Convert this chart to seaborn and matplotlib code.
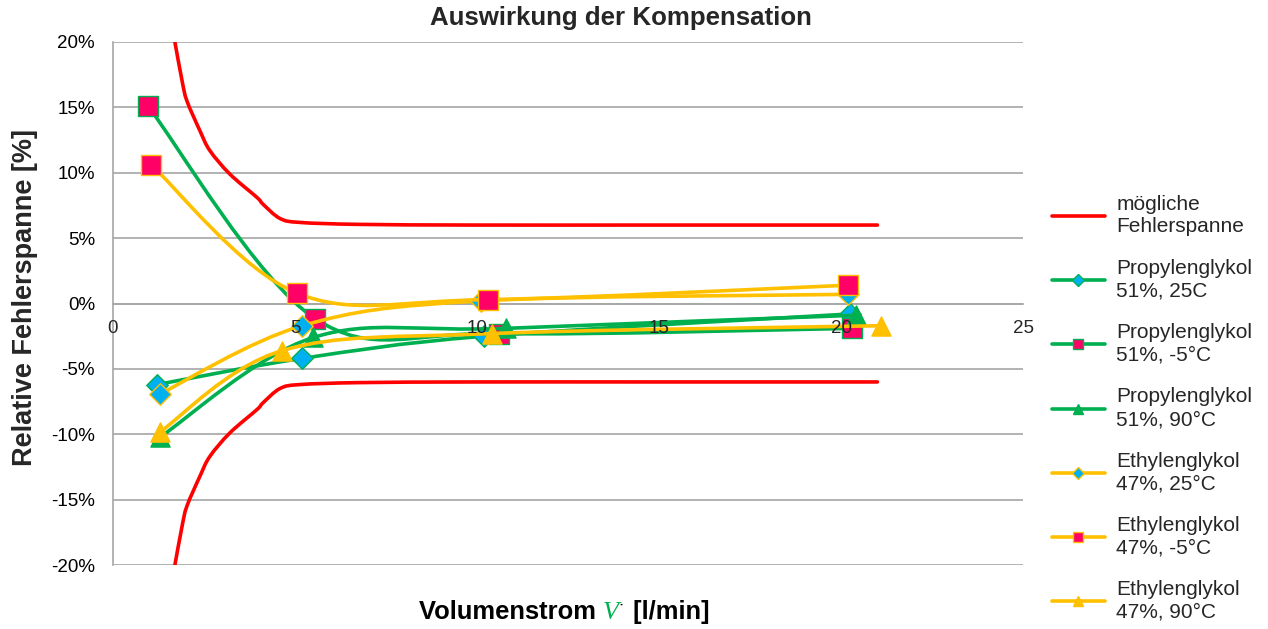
import matplotlib
matplotlib.use("Agg")
import matplotlib.pyplot as plt
import numpy as np
import pandas as pd
import seaborn as sns
from matplotlib.path import Path
from matplotlib.patches import PathPatch
from matplotlib.lines import Line2D
from matplotlib.offsetbox import TextArea, HPacker, AnchoredOffsetbox
from matplotlib.ticker import FuncFormatter

# possible error band
band_x_upper = [1.70, 1.90, 2.03, 2.39, 2.66, 3.21, 3.96, 4.12, 4.59, 5.14, 6.8, 10.0, 15.0, 21.0]
band_y_upper = [20.0, 17.0, 15.5, 13.2, 11.7, 9.9, 8.1, 7.6, 6.5, 6.2, 6.05, 6.0, 6.0, 6.0]
band_x_lower = [1.70, 1.90, 2.03, 2.39, 2.66, 3.21, 3.96, 4.12, 4.59, 5.14, 6.8, 10.0, 15.0, 21.0]
band_y_lower = [-20.0, -17.0, -15.5, -13.2, -11.7, -9.9, -8.1, -7.6, -6.5, -6.2, -6.05, -6.0, -6.0, -6.0]

# measured series: flow [l/min] and relative error [%]
pg25_x = [1.21, 5.2, 10.2, 20.25]
pg25_y = [-6.2, -4.2, -2.5, -0.8]
pgm5_x = [0.96, 5.55, 10.6, 20.3]
pgm5_y = [15.1, -1.15, -2.3, -1.9]
pg90_x = [1.3, 5.5, 10.8, 20.4]
pg90_y = [-10.2, -2.6, -1.9, -0.9]
eg25_x = [1.3, 5.2, 10.1, 20.2]
eg25_y = [-6.9, -1.7, 0.2, 0.7]
egm5_x = [1.05, 5.05, 10.3, 20.2]
egm5_y = [10.6, 0.8, 0.3, 1.4]
eg90_x = [1.3, 4.65, 10.4, 21.1]
eg90_y = [-9.8, -3.6, -2.3, -1.7]

x_ticks = [0, 5, 10, 15, 20, 25]
y_ticks = [-20, -15, -10, -5, 0, 5, 10, 15, 20]

labels = [
    "Propylenglykol\n51%, 25C",
    "Propylenglykol\n51%, -5°C",
    "Propylenglykol\n51%, 90°C",
    "Ethylenglykol\n47%, 25°C",
    "Ethylenglykol\n47%, -5°C",
    "Ethylenglykol\n47%, 90°C",
]

RED = "#FF0000"
GREEN = "#00B050"
YELLOW = "#FFC000"
BLUE = "#00B0F0"
PINK = "#FF0066"
GRID = "#A6A6A6"


def smooth_path(xs, ys):
    # excel style smoothed line (catmull-rom bezier)
    pts = np.column_stack([xs, ys]).astype(float)
    n = len(pts)
    verts = [pts[0]]
    codes = [Path.MOVETO]
    for i in range(n - 1):
        p0 = pts[i - 1] if i > 0 else pts[i]
        p3 = pts[i + 2] if i + 2 < n else pts[i + 1]
        c1 = pts[i] + (pts[i + 1] - p0) / 6.0
        c2 = pts[i + 1] - (p3 - pts[i]) / 6.0
        verts += [c1, c2, pts[i + 1]]
        codes += [Path.CURVE4] * 3
    return Path(verts, codes)


sns.set_style("white")
plt.rcParams['font.family'] = ['Liberation Sans', 'DejaVu Sans']

fig = plt.figure(figsize=(12.68, 6.29), dpi=100)
ax = fig.add_axes([113 / 1268, 1 - 565 / 629, (1023 - 113) / 1268, (565 - 42) / 629])

lw = 2.6
# error band
for bx, by in [(band_x_upper, band_y_upper), (band_x_lower, band_y_lower)]:
    ax.add_patch(PathPatch(smooth_path(bx, by), fill=False, edgecolor=RED, lw=lw,
                           capstyle="round", zorder=3))

series = [
    (pg25_x, pg25_y, GREEN, "D", BLUE, GREEN, 120),
    (pgm5_x, pgm5_y, GREEN, "s", PINK, GREEN, 210),
    (pg90_x, pg90_y, GREEN, "^", GREEN, GREEN, 190),
    (eg25_x, eg25_y, YELLOW, "D", BLUE, YELLOW, 120),
    (egm5_x, egm5_y, YELLOW, "s", PINK, YELLOW, 210),
    (eg90_x, eg90_y, YELLOW, "^", YELLOW, YELLOW, 190),
]

z = 4
for sx, sy, lc, mk, fc, ec, ms in series:
    ax.add_patch(PathPatch(smooth_path(sx, sy), fill=False, edgecolor=lc, lw=lw,
                           capstyle="round", zorder=z))
    df = pd.DataFrame({"x": sx, "y": sy})
    sns.scatterplot(data=df, x="x", y="y", marker=mk, s=ms, color=fc,
                    edgecolor=ec, linewidth=1.0, ax=ax, zorder=z + 0.5, clip_on=False)
    z += 1

ax.set_xlim(0, 25)
ax.set_ylim(-20, 20)
ax.set_xticks(x_ticks)
ax.set_yticks(y_ticks)
ax.yaxis.set_major_formatter(FuncFormatter(lambda v, p: "%d%%" % v))
ax.set_xticklabels([])
ax.set_xlabel("")
ax.set_ylabel("")

# x tick labels sit on top of the data lines, as in the original
for v in x_ticks:
    ax.annotate(str(v), (v, 0), xytext=(0, -12), textcoords="offset points",
                ha="center", va="top", fontsize=13.5, zorder=30)

ax.grid(axis="y", color=GRID, lw=1.2)
ax.grid(axis="x", visible=False)
for s in ["top", "right"]:
    ax.spines[s].set_visible(False)
ax.spines["left"].set_color(GRID)
ax.spines["left"].set_linewidth(1.2)
ax.spines["bottom"].set_position(("data", 0))
ax.spines["bottom"].set_color(GRID)
ax.spines["bottom"].set_linewidth(1.2)
ax.tick_params(axis="both", colors=GRID, labelcolor="black", labelsize=13.5,
               direction="out", length=4, width=1.2)
ax.tick_params(axis="y", pad=9)
ax.set_axisbelow(True)

fig.text(621 / 1268, 1 - 18 / 629, "Auswirkung der Kompensation", fontsize=18.6,
         fontweight="bold", ha="center", va="center")
fig.text(25 / 1268, 1 - 298 / 629, "Relative Fehlerspanne [%]", rotation=90,
         fontsize=19.5, fontweight="bold", ha="center", va="center")

# x label with coloured symbol
parts = [
    TextArea("Volumenstrom ", textprops=dict(fontsize=18.4, fontweight="bold", color="black")),
    TextArea("V", textprops=dict(fontsize=19, style="italic", family="Liberation Serif", color=GREEN)),
    TextArea("˙", textprops=dict(fontsize=15, color="black")),
    TextArea(" [l/min]", textprops=dict(fontsize=18.4, fontweight="bold", color="black")),
]
box = HPacker(children=parts, align="baseline", pad=0, sep=0)
anch = AnchoredOffsetbox(loc="center", child=box, frameon=False,
                         bbox_to_anchor=(564 / 1268, 1 - 612 / 629),
                         bbox_transform=fig.transFigure, borderpad=0)
fig.add_artist(anch)

# legend
handles = [Line2D([], [], color=RED, lw=lw)]
for sx, sy, lc, mk, fc, ec, ms in series:
    handles.append(Line2D([], [], color=lc, lw=lw, marker=mk, markersize=7 if mk != "D" else 6,
                          markerfacecolor=fc, markeredgecolor=ec))
leg = fig.legend(handles, ["mögliche\nFehlerspanne"] + labels, loc="upper left",
                 bbox_to_anchor=(1033 / 1268, 1 - 176 / 629), frameon=False, fontsize=15,
                 handlelength=2.55, labelspacing=1.08, handletextpad=0.55)
for t in leg.get_texts():
    t.set_linespacing(1.25)

fig.savefig("out.png", dpi=100)
